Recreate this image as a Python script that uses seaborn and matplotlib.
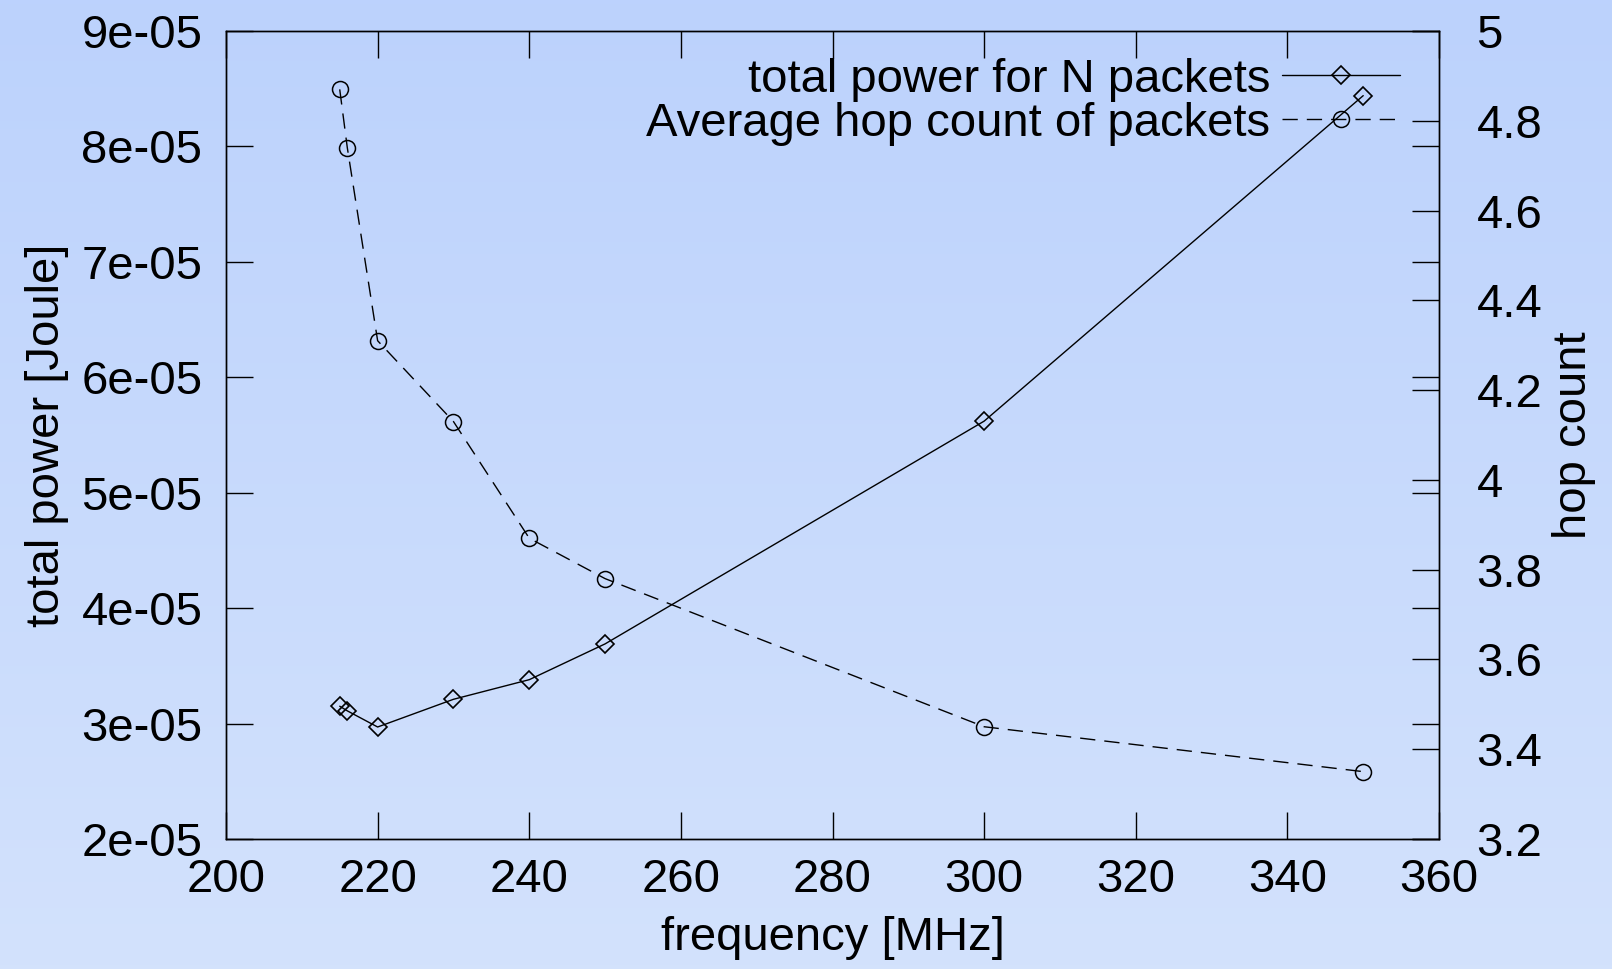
"""Total power and average hop count versus clock frequency, gnuplot-like look."""
import numpy as np
import pandas as pd

import seaborn as sns
import matplotlib.pyplot as plt
from matplotlib.colors import LinearSegmentedColormap
from matplotlib.ticker import FuncFormatter

sns.set_style("ticks")
plt.rcParams["font.family"] = ["Liberation Sans", "DejaVu Sans"]
plt.rcParams.update({"text.color": "black", "axes.labelcolor": "black",
                     "xtick.color": "black", "ytick.color": "black"})


############################## Data.

frequency = [215, 216, 220, 230, 240, 250, 300, 350]
total_power = [3.15e-05, 3.11e-05, 2.97e-05, 3.21e-05, 3.38e-05, 3.69e-05, 5.62e-05, 8.44e-05]
hop_count = [4.87, 4.74, 4.31, 4.13, 3.87, 3.78, 3.45, 3.35]

power_label = "total power for N packets"
hop_label = "Average hop count of packets"

x_ticks = [200, 220, 240, 260, 280, 300, 320, 340, 360]
power_ticks = [2e-05, 3e-05, 4e-05, 5e-05, 6e-05, 7e-05, 8e-05, 9e-05]
hop_ticks = [3.2, 3.4, 3.6, 3.8, 4.0, 4.2, 4.4, 4.6, 4.8, 5.0]

df = pd.DataFrame({"frequency": frequency, "power": total_power, "hops": hop_count})


############################## Plot it.

FONTSIZE = 34
TICK_LEN = 19.5
BG_TOP = "#bcd2fd"
BG_BOTTOM = "#d3e2fc"

fig = plt.figure(figsize=(16.12, 9.69), dpi=100)

# Vertical gradient behind everything.
bg = fig.add_axes([0, 0, 1, 1], zorder=-1)
grad = np.linspace(1, 0, 256).reshape(-1, 1)
cmap = LinearSegmentedColormap.from_list("bg", [BG_BOTTOM, BG_TOP])
bg.imshow(grad, aspect="auto", extent=[0, 1, 0, 1], cmap=cmap)
bg.set_axis_off()

ax = fig.add_axes([0.1402, 0.1342, 0.7525, 0.8338])
ax.patch.set_visible(False)
ax2 = ax.twinx()

sns.lineplot(data=df, x="frequency", y="power", ax=ax, sort=False,
             color="black", linewidth=1.0, marker="D", markersize=9.5,
             markerfacecolor="none", markeredgecolor="black", markeredgewidth=1.2,
             label=power_label, legend=False)
sns.lineplot(data=df, x="frequency", y="hops", ax=ax2, sort=False,
             color="black", linewidth=1.0, linestyle=(0, (11, 6.5)),
             marker="o", markersize=11.5,
             markerfacecolor="none", markeredgecolor="black", markeredgewidth=1.1,
             label=hop_label, legend=False)

# a e s t h e t i c s
ax.set_xlim(200, 360)
ax.set_ylim(2e-05, 9e-05)
ax2.set_ylim(3.2, 5.0)
ax.set_xticks(x_ticks)
ax.set_yticks(power_ticks)
ax2.set_yticks(hop_ticks)
ax.yaxis.set_major_formatter(FuncFormatter(lambda v, _: f"{v:.0e}"))
ax2.yaxis.set_major_formatter(FuncFormatter(lambda v, _: f"{v:g}"))

ax.tick_params(axis="x", which="both", direction="in", top=True, length=TICK_LEN,
               width=1.0, pad=14, labelsize=FONTSIZE, colors="black")
ax.tick_params(axis="y", which="both", direction="in", right=True, length=TICK_LEN,
               width=1.0, pad=17, labelsize=FONTSIZE, colors="black")
ax2.tick_params(axis="y", direction="in", length=TICK_LEN, width=1.0, pad=27,
                labelsize=FONTSIZE, colors="black")

for a in (ax, ax2):
    for spine in a.spines.values():
        spine.set_linewidth(1.0)
        spine.set_color("black")
        spine.set_visible(True)

ax.set_xlabel("frequency [MHz]", fontsize=FONTSIZE, labelpad=10)
ax.set_ylabel("total power [Joule]", fontsize=FONTSIZE, labelpad=9)
ax2.set_ylabel("hop count", fontsize=FONTSIZE, labelpad=7, rotation=90)

handles = ax.get_lines() + ax2.get_lines()
leg = ax2.legend(handles, [power_label, hop_label], loc="upper right",
                 bbox_to_anchor=(0.968, 0.967), markerfirst=False, frameon=False,
                 fontsize=FONTSIZE, handlelength=2.5, handletextpad=0.25,
                 labelspacing=0.0, borderpad=0, borderaxespad=0)

fig.savefig("out.png", dpi=100)
plt.close()
